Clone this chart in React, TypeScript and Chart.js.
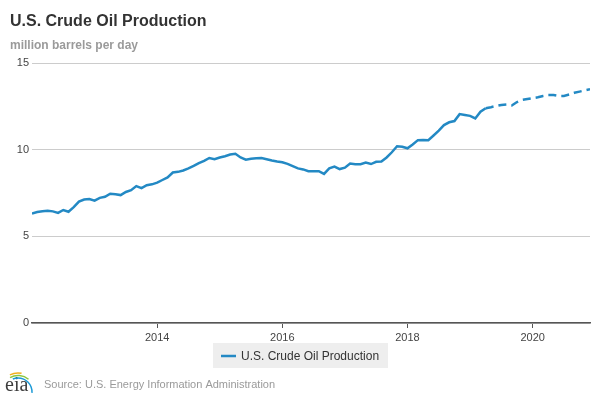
import React, { useEffect, useRef } from "react";
import { Chart, registerables } from "chart.js";

Chart.register(...registerables);

// Monthly values, million barrels per day
const START_YEAR = 2012;
const historical: number[] = [
  // 2012
  6.32, 6.4, 6.45, 6.47, 6.44, 6.35, 6.52, 6.42, 6.68, 7.0, 7.12, 7.15,
  // 2013
  7.06, 7.22, 7.28, 7.46, 7.43, 7.38, 7.56, 7.66, 7.9, 7.78, 7.95, 8.0,
  // 2014
  8.1, 8.25, 8.4, 8.68, 8.72, 8.8, 8.92, 9.06, 9.22, 9.35, 9.52, 9.45,
  // 2015
  9.55, 9.62, 9.72, 9.76, 9.55, 9.42, 9.48, 9.5, 9.52, 9.45, 9.38, 9.32,
  // 2016
  9.27, 9.18, 9.05, 8.92, 8.86, 8.76, 8.75, 8.76, 8.6, 8.92, 9.02, 8.88,
  // 2017
  8.96, 9.2, 9.16, 9.16, 9.25, 9.17, 9.3, 9.32, 9.55, 9.85, 10.2, 10.17,
  // 2018
  10.08, 10.3, 10.55, 10.56, 10.55, 10.82, 11.1, 11.42, 11.58, 11.65, 12.05, 12.0,
  // 2019 Jan-Apr
  11.95, 11.8, 12.19, 12.39,
];
// Forecast from Apr 2019 to Dec 2020 (starts at last historical month)
const forecast: number[] = [
  12.39, 12.45, 12.52, 12.58, 12.6, 12.55, 12.75, 12.87, 12.92,
  12.97, 13.02, 13.1, 13.15, 13.15, 13.1, 13.1, 13.18, 13.28, 13.35, 13.42, 13.48,
];
const yTicks = [0, 5, 10, 15];
const xTickYears = [2014, 2016, 2018, 2020];

const titleText = "U.S. Crude Oil Production";
const subtitleText = "million barrels per day";
const seriesLabel = "U.S. Crude Oil Production";
const sourceText = "Source: U.S. Energy Information Administration";

const FONT = '"Liberation Sans", Arial, Helvetica, sans-serif';
const LINE_COLOR = "#2389c4";

const toPoints = (values: number[], offset: number) =>
  values.map((v, i) => ({ x: START_YEAR + (offset + i) / 12, y: v }));

const decorPlugin = {
  id: "decor",
  afterDraw(chart: any) {
    const ctx: CanvasRenderingContext2D = chart.ctx;
    ctx.save();
    ctx.textBaseline = "alphabetic";
    ctx.textAlign = "left";
    // title
    ctx.fillStyle = "#333333";
    ctx.font = `bold 16px ${FONT}`;
    ctx.fillText(titleText, 10, 26);
    // subtitle
    ctx.fillStyle = "#9a9a9a";
    ctx.font = `bold 12px ${FONT}`;
    ctx.fillText(subtitleText, 10, 49);
    // legend box
    ctx.fillStyle = "#eeeeee";
    ctx.fillRect(213, 343, 175, 25);
    ctx.strokeStyle = LINE_COLOR;
    ctx.lineWidth = 2.5;
    ctx.beginPath();
    ctx.moveTo(221, 356);
    ctx.lineTo(236, 356);
    ctx.stroke();
    ctx.fillStyle = "#333333";
    ctx.font = `12px ${FONT}`;
    ctx.textBaseline = "middle";
    ctx.fillText(seriesLabel, 241, 356.5);
    // source
    ctx.fillStyle = "#9a9a9a";
    ctx.font = `11px ${FONT}`;
    ctx.fillText(sourceText, 44, 385);
    // eia logo
    ctx.fillStyle = "#3d3d3d";
    ctx.font = `20px "Liberation Serif", "DejaVu Serif", serif`;
    ctx.textBaseline = "alphabetic";
    ctx.fillText("eia", 5, 391);
    const arcs = [
      { c: "#f2b01e", r: 19, a0: 1.36, a1: 1.56 },
      { c: "#8dc63f", r: 16.5, a0: 1.34, a1: 1.72 },
      { c: "#1c9ad6", r: 14, a0: 1.38, a1: 2.02 },
    ];
    ctx.lineWidth = 1.5;
    arcs.forEach((a) => {
      ctx.strokeStyle = a.c;
      ctx.beginPath();
      ctx.arc(18, 392, a.r, Math.PI * a.a0, Math.PI * a.a1);
      ctx.stroke();
    });
    ctx.restore();
  },
};

export default function App() {
  const canvasRef = useRef<HTMLCanvasElement | null>(null);

  useEffect(() => {
    document.body.style.margin = "0";
    const canvas = canvasRef.current;
    if (!canvas) return;
    const chart = new Chart(canvas, {
      type: "line",
      data: {
        datasets: [
          {
            label: seriesLabel,
            data: toPoints(historical, 0),
            borderColor: LINE_COLOR,
            backgroundColor: LINE_COLOR,
            borderWidth: 2.5,
            pointRadius: 0,
            tension: 0,
          },
          {
            label: seriesLabel + " (forecast)",
            data: toPoints(forecast, historical.length - 1),
            borderColor: LINE_COLOR,
            backgroundColor: LINE_COLOR,
            borderWidth: 2.5,
            borderDash: [8, 5],
            pointRadius: 0,
            tension: 0,
          },
        ],
      },
      options: {
        animation: false,
        responsive: false,
        devicePixelRatio: 1,
        layout: { padding: { top: 63, right: 10, bottom: 56, left: 0 } },
        plugins: {
          legend: { display: false },
          title: { display: false },
          tooltip: { enabled: false },
        },
        scales: {
          x: {
            type: "linear",
            min: START_YEAR,
            max: START_YEAR + (historical.length - 1 + forecast.length - 1) / 12,
            afterBuildTicks: (scale: any) => {
              scale.ticks = xTickYears.map((v) => ({ value: v }));
            },
            afterFit: (scale: any) => {
              scale.height = 20;
            },
            grid: {
              drawOnChartArea: false,
              drawTicks: true,
              tickLength: 5,
              color: "#555555",
            },
            border: { display: true, color: "#555555", width: 1.5 },
            ticks: {
              autoSkip: false,
              maxRotation: 0,
              padding: 3,
              color: "#444444",
              font: { family: FONT, size: 11 },
              callback: (v: any) => String(v),
            },
          },
          y: {
            min: 0,
            max: 15,
            afterBuildTicks: (scale: any) => {
              scale.ticks = yTicks.map((v) => ({ value: v }));
            },
            afterFit: (scale: any) => {
              scale.width = 32;
            },
            grid: { drawTicks: false, color: "#cccccc", lineWidth: 1 },
            border: { display: false },
            ticks: {
              padding: 3,
              color: "#444444",
              font: { family: FONT, size: 11 },
              callback: (v: any) => String(v),
            },
          },
        },
      },
      plugins: [decorPlugin],
    });
    return () => chart.destroy();
  }, []);

  return (
    <div style={{ position: "absolute", left: 0, top: 0, width: 600, height: 399, background: "#ffffff" }}>
      <canvas ref={canvasRef} width={600} height={399} />
    </div>
  );
}
